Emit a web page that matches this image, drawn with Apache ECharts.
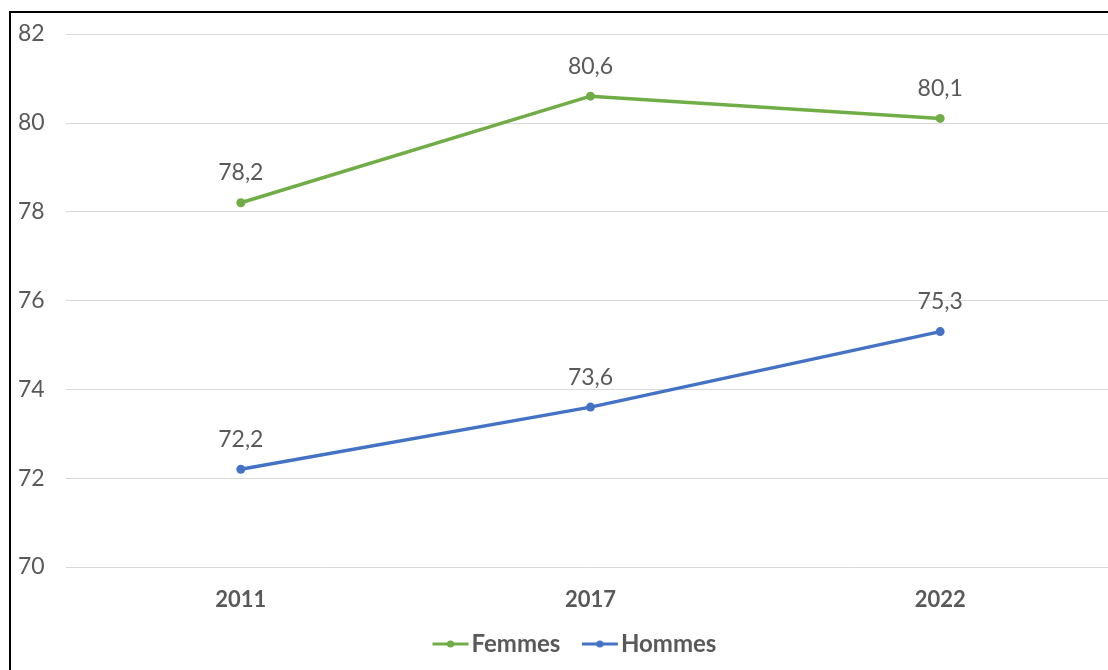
<!DOCTYPE html>
<html>
<head>
<meta charset="utf-8">
<script src="https://cdn.jsdelivr.net/npm/echarts@6/dist/echarts.min.js"></script>
<style>
  html, body { margin: 0; padding: 0; background: #fff; overflow: hidden; }
  #chart { width: 1108px; height: 670px; }
  #frame {
    position: absolute; left: 9px; top: 11px;
    width: 1200px; height: 800px;
    border: 2px solid #000; pointer-events: none;
  }
</style>
</head>
<body>
<div id="chart"></div>
<div id="frame"></div>
<script>
var years = ['2011', '2017', '2022'];
var femmes = [78.2, 80.6, 80.1];
var hommes = [72.2, 73.6, 75.3];
var yTicks = [70, 72, 74, 76, 78, 80, 82];

var txt = '#595959';
var font = 'Lato, "Open Sans", sans-serif';

function virgule(p) {
  return String(p.value).replace('.', ',');
}

function serie(name, data, color) {
  return {
    name: name,
    type: 'line',
    data: data,
    symbol: 'circle',
    symbolSize: 9,
    lineStyle: { width: 3.5, color: color },
    itemStyle: { color: color },
    label: {
      show: true,
      position: 'top',
      distance: 14,
      color: txt,
      fontSize: 23,
      fontFamily: font,
      formatter: virgule
    }
  };
}

var chart = echarts.init(document.getElementById('chart'));
chart.setOption({
  animation: false,
  grid: { left: 66, width: 1049, top: 34, bottom: 103, outerBoundsMode: 'none' },
  legend: {
    bottom: 9,
    left: 426,
    itemWidth: 36,
    itemHeight: 9,
    itemGap: 20,
    lineStyle: { width: 3 },
    textStyle: { color: txt, fontSize: 24, fontWeight: 'bold', fontFamily: font, padding: [0, 0, 0, -2] },
    data: ['Femmes', 'Hommes']
  },
  xAxis: {
    type: 'category',
    data: years,
    axisLine: { show: false },
    axisTick: { show: false },
    axisLabel: { color: txt, fontSize: 22, fontWeight: 'bold', fontFamily: font, margin: 22 }
  },
  yAxis: {
    type: 'value',
    min: yTicks[0],
    max: yTicks[yTicks.length - 1],
    interval: 2,
    axisLine: { show: false },
    axisTick: { show: false },
    splitLine: { lineStyle: { color: '#d9d9d9', width: 1 } },
    axisLabel: { color: txt, fontSize: 23, fontFamily: font, align: 'left', margin: 48 }
  },
  series: [
    serie('Femmes', femmes, '#70ad47'),
    serie('Hommes', hommes, '#4472c4')
  ]
});
</script>
</body>
</html>
